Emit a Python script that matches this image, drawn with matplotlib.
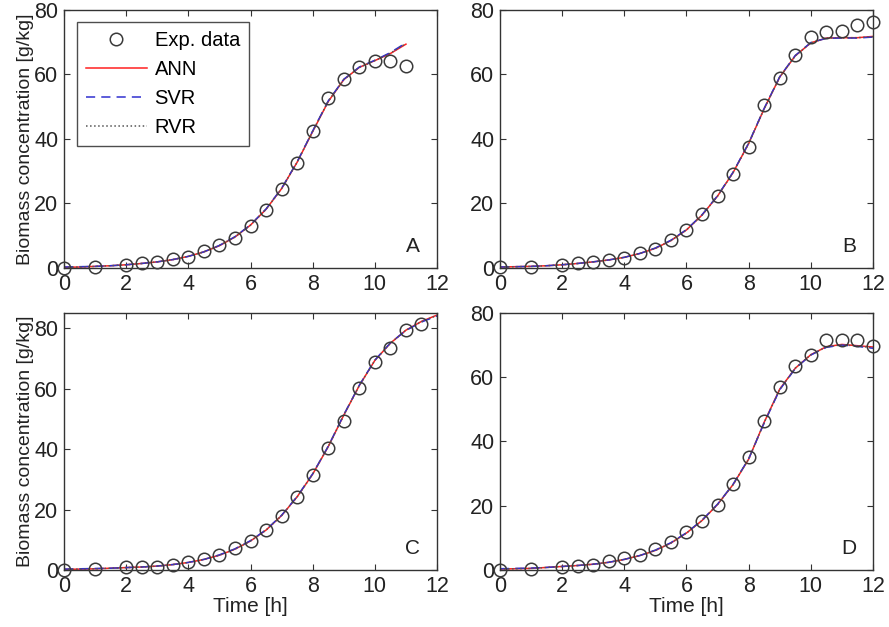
import matplotlib.pyplot as plt
import numpy as np

plt.rcParams['font.family'] = ['Liberation Sans', 'DejaVu Sans']

# experimental time points
t_exp_A = [0, 1, 2, 2.5, 3, 3.5, 4, 4.5, 5, 5.5, 6, 6.5, 7, 7.5, 8, 8.5, 9, 9.5, 10, 10.5, 11]
t_exp_B = [0, 1, 2, 2.5, 3, 3.5, 4, 4.5, 5, 5.5, 6, 6.5, 7, 7.5, 8, 8.5, 9, 9.5, 10, 10.5, 11, 11.5, 12]
t_exp_C = [0, 1, 2, 2.5, 3, 3.5, 4, 4.5, 5, 5.5, 6, 6.5, 7, 7.5, 8, 8.5, 9, 9.5, 10, 10.5, 11, 11.5]
t_exp_D = t_exp_B

y_exp_A = [0.1, 0.3, 1.0, 1.4, 1.9, 2.7, 3.4, 5.3, 7.2, 9.4, 13.1, 17.9, 24.5, 32.6, 42.5, 52.6, 58.6, 62.4, 64.2, 64.2, 62.7]
y_exp_B = [0.3, 0.3, 1.0, 1.4, 1.9, 2.5, 3.2, 4.5, 6.0, 8.8, 11.7, 16.6, 22.3, 29.2, 37.5, 50.4, 58.9, 66.0, 71.7, 73.2, 73.4, 75.3, 76.2]
y_exp_C = [0.0, 0.2, 0.9, 1.1, 1.1, 1.6, 2.5, 3.5, 5.0, 7.2, 9.7, 13.2, 17.8, 24.0, 31.4, 40.3, 49.3, 60.3, 68.8, 73.4, 79.4, 81.4]
y_exp_D = [0.0, 0.3, 1.0, 1.4, 1.6, 2.8, 3.6, 4.6, 6.4, 8.6, 11.9, 15.3, 20.1, 26.7, 35.1, 46.5, 56.9, 63.6, 66.8, 71.5, 71.5, 71.5, 69.6]

# model time grid
t_mod_A = [0, 0.5, 1, 1.5, 2, 2.5, 3, 3.5, 4, 4.5, 5, 5.5, 6, 6.5, 7, 7.5, 8, 8.5, 9, 9.5, 10, 10.5, 11]
t_mod_BCD = [0, 0.5, 1, 1.5, 2, 2.5, 3, 3.5, 4, 4.5, 5, 5.5, 6, 6.5, 7, 7.5, 8, 8.5, 9, 9.5, 10, 10.5, 11, 11.5, 12]

ann_A = [0.2, 0.3, 0.5, 0.7, 1.0, 1.4, 1.9, 2.6, 3.6, 5.0, 6.9, 9.6, 13.3, 18.2, 24.6, 32.8, 42.3, 51.6, 58.4, 62.2, 64.3, 66.5, 69.4]
svr_A = [0.3, 0.4, 0.5, 0.7, 1.0, 1.4, 1.9, 2.6, 3.6, 5.0, 7.0, 9.7, 13.4, 18.3, 24.7, 32.9, 42.5, 51.8, 58.5, 62.3, 64.4, 66.8, 69.8]
rvr_A = [0.2, 0.3, 0.5, 0.7, 1.0, 1.4, 1.9, 2.6, 3.6, 5.0, 7.0, 9.6, 13.3, 18.2, 24.6, 32.8, 42.4, 51.7, 58.4, 62.2, 64.3, 66.6, 69.6]

ann_B = [0.3, 0.4, 0.5, 0.7, 1.0, 1.4, 1.9, 2.5, 3.3, 4.5, 6.1, 8.5, 11.8, 16.4, 22.3, 29.6, 38.6, 49.4, 59.2, 65.8, 69.8, 71.3, 71.4, 71.4, 71.8]
svr_B = [0.3, 0.4, 0.5, 0.7, 1.0, 1.4, 1.9, 2.5, 3.3, 4.5, 6.2, 8.6, 11.9, 16.5, 22.4, 29.7, 38.7, 49.5, 59.3, 65.9, 69.9, 71.2, 71.3, 71.3, 71.6]
rvr_B = [0.3, 0.4, 0.5, 0.7, 1.0, 1.4, 1.9, 2.5, 3.3, 4.5, 6.1, 8.5, 11.8, 16.4, 22.3, 29.6, 38.6, 49.4, 59.2, 65.8, 69.8, 71.3, 71.4, 71.4, 71.7]

ann_C = [0.2, 0.3, 0.4, 0.6, 0.8, 1.0, 1.3, 1.8, 2.5, 3.5, 4.9, 6.9, 9.6, 13.2, 18.0, 24.2, 31.7, 40.8, 51.2, 61.0, 69.3, 75.0, 79.3, 82.2, 84.3]
svr_C = [0.3, 0.4, 0.5, 0.6, 0.8, 1.0, 1.3, 1.8, 2.5, 3.5, 5.0, 7.0, 9.7, 13.3, 18.1, 24.3, 31.8, 40.9, 51.3, 61.1, 69.4, 75.1, 79.2, 82.0, 84.0]
rvr_C = [0.2, 0.3, 0.4, 0.6, 0.8, 1.0, 1.3, 1.8, 2.5, 3.5, 4.9, 6.9, 9.6, 13.2, 18.0, 24.2, 31.7, 40.8, 51.2, 61.0, 69.3, 75.0, 79.3, 82.1, 84.2]

ann_D = [0.3, 0.4, 0.5, 0.8, 1.1, 1.4, 1.8, 2.4, 3.3, 4.5, 6.1, 8.4, 11.5, 15.4, 20.4, 26.6, 34.5, 46.0, 56.3, 62.8, 67.0, 69.5, 70.2, 69.8, 69.4]
svr_D = [0.4, 0.5, 0.6, 0.8, 1.1, 1.4, 1.8, 2.4, 3.3, 4.5, 6.2, 8.5, 11.6, 15.5, 20.5, 26.7, 34.6, 45.8, 56.1, 62.7, 66.9, 69.3, 70.0, 69.6, 69.0]
rvr_D = [0.3, 0.4, 0.5, 0.8, 1.1, 1.4, 1.8, 2.4, 3.3, 4.5, 6.1, 8.4, 11.5, 15.4, 20.4, 26.6, 34.5, 45.9, 56.2, 62.8, 67.0, 69.4, 70.1, 69.7, 69.2]

paneles = [
    ('A', t_exp_A, y_exp_A, t_mod_A, ann_A, svr_A, rvr_A, 80),
    ('B', t_exp_B, y_exp_B, t_mod_BCD, ann_B, svr_B, rvr_B, 80),
    ('C', t_exp_C, y_exp_C, t_mod_BCD, ann_C, svr_C, rvr_C, 85),
    ('D', t_exp_D, y_exp_D, t_mod_BCD, ann_D, svr_D, rvr_D, 80),
]

# axes positions [left, bottom, width, height] in figure fractions
posiciones = [
    [0.072, 0.5726, 0.4196, 0.4115],
    [0.5624, 0.5726, 0.4196, 0.4115],
    [0.072, 0.0909, 0.4196, 0.4100],
    [0.5624, 0.0909, 0.4196, 0.4100],
]

fig = plt.figure(figsize=(8.89, 6.27), dpi=100)
borde = '#333333'

for (letra, tx, ty, tm, ann, svr, rvr, ymax), pos in zip(paneles, posiciones):
    ax = fig.add_axes(pos)
    ax.plot(tx, ty, 'o', mfc='none', mec='#3a3a3a', mew=1.1, ms=9, clip_on=False,
            label='Exp. data', zorder=3)
    ax.plot(tm, ann, '-', color='#ff2020', lw=1.1, label='ANN')
    ax.plot(tm, svr, '--', color='#3030d0', lw=1.1, dashes=(6, 4), label='SVR')
    ax.plot(tm, rvr, ':', color='#555555', lw=1.1, label='RVR')

    ax.set_xlim(0, 12)
    ax.set_ylim(0, ymax)
    ax.set_xticks(np.arange(0, 13, 2))
    ax.set_yticks(np.arange(0, ymax + 1, 20))
    ax.tick_params(direction='in', top=True, right=True, labelsize=15.5,
                   length=4, color=borde, labelcolor='#222222', pad=4)
    for s in ax.spines.values():
        s.set_color(borde)
        s.set_linewidth(1.0)
    ax.text(0.955, 0.045, letra, transform=ax.transAxes, ha='right', va='bottom',
            fontsize=15, color='#222222')

    if letra in ('A', 'C'):
        ax.set_ylabel('Biomass concentration [g/kg]', fontsize=14, color='#222222', labelpad=0)
    if letra in ('C', 'D'):
        ax.set_xlabel('Time [h]', fontsize=15, color='#222222', labelpad=0)
    if letra == 'A':
        leg = ax.legend(loc='upper left', bbox_to_anchor=(0.035, 0.955), fontsize=14.5,
                        fancybox=False, edgecolor='#222222', handlelength=3.0,
                        borderpad=0.45, labelspacing=0.5, handletextpad=0.4,
                        borderaxespad=0.0)
        leg.get_frame().set_linewidth(1.0)

fig.savefig('out.png', dpi=100)
